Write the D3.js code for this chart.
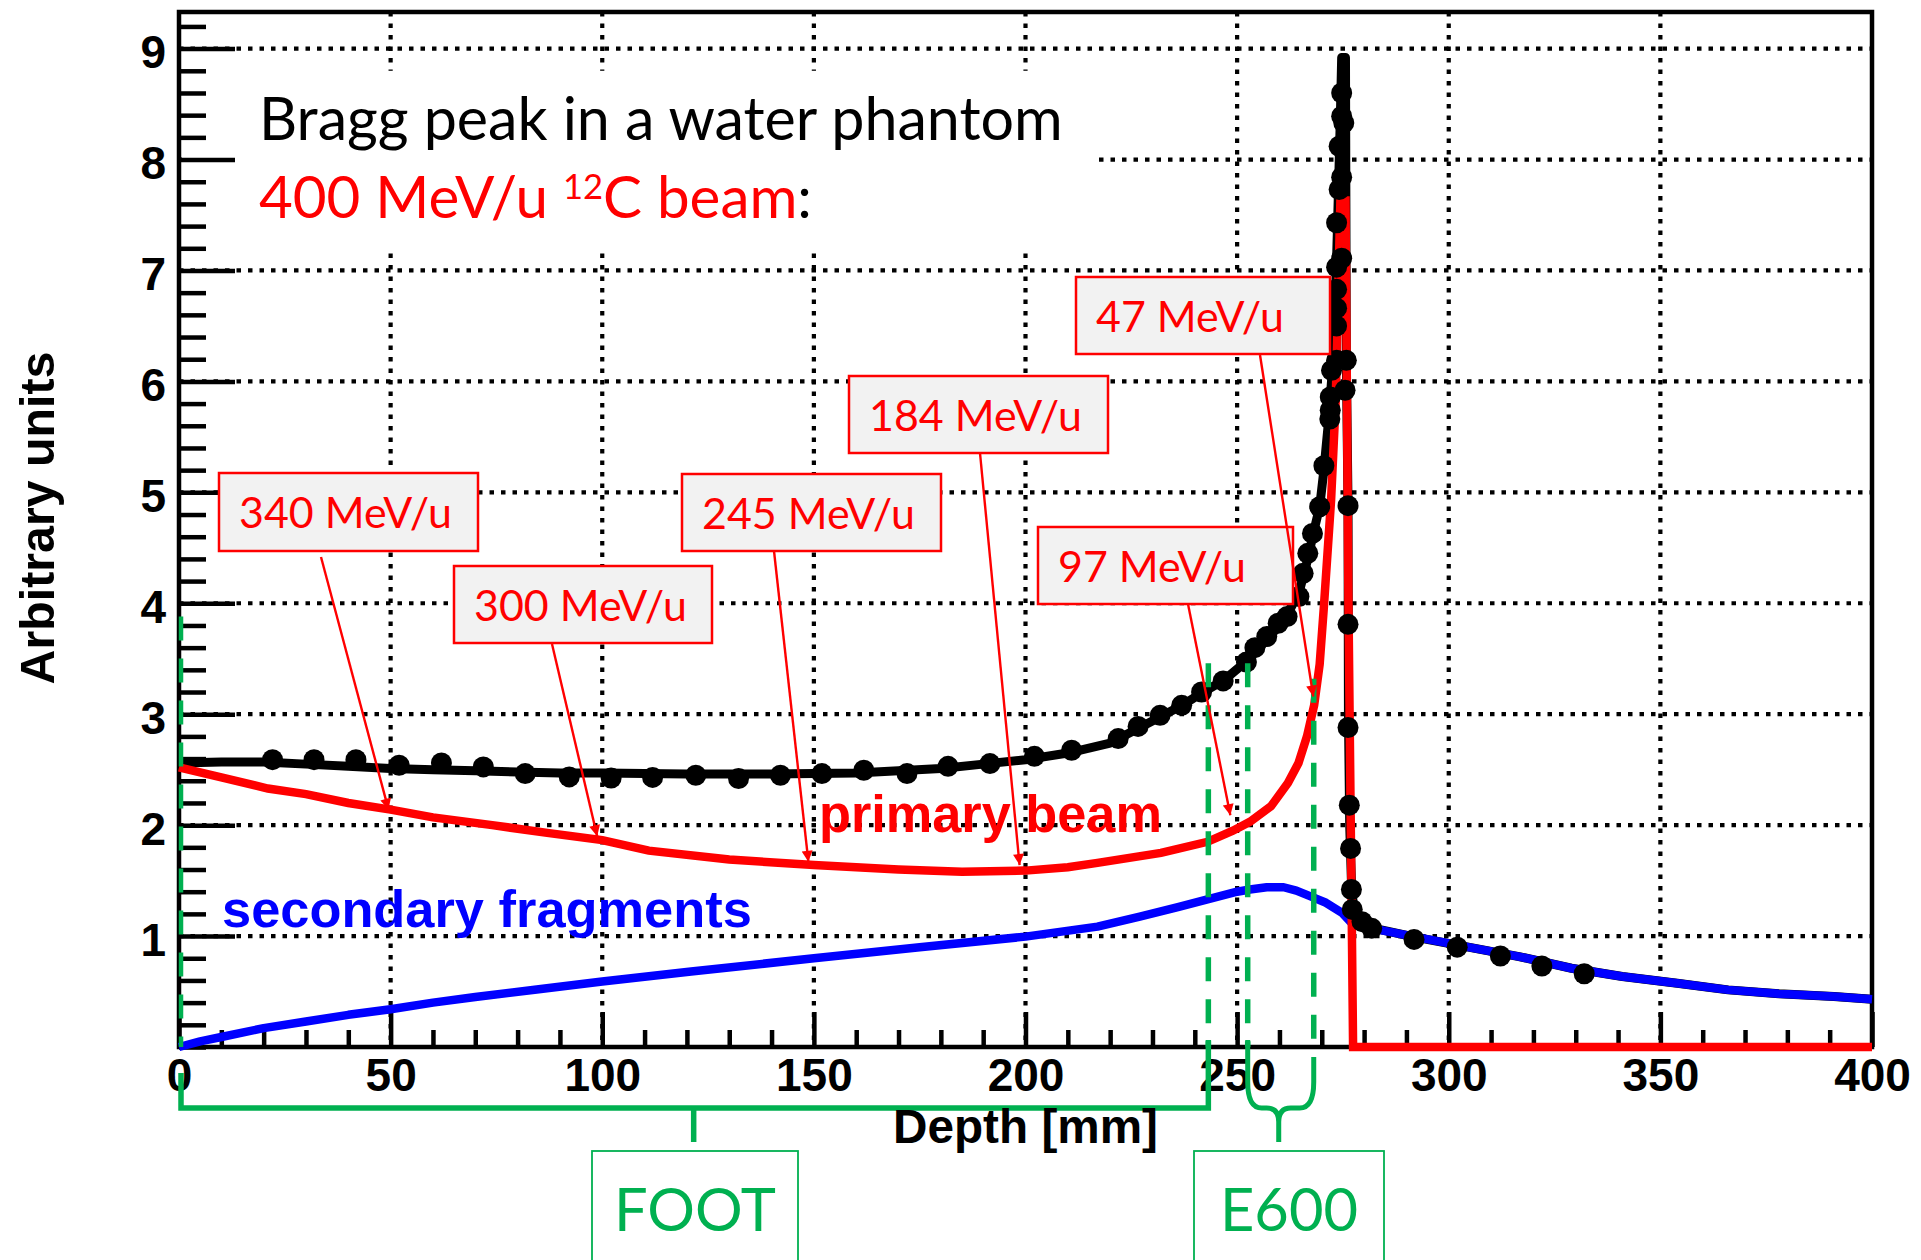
<!DOCTYPE html>
<html><head><meta charset="utf-8">
<script src="https://cdn.jsdelivr.net/npm/d3@7"></script>
<style>body{margin:0;background:#fff} svg{display:block}</style>
</head><body>
<svg id="chart" width="1921" height="1260"></svg>
<script>
// ---------------- DATA ----------------
const depthTicks = [0, 50, 100, 150, 200, 250, 300, 350, 400];
const depthMinorTicks = d3.range(0, 401, 10);
const valueTicks = [1, 2, 3, 4, 5, 6, 7, 8, 9];
const valueMinorTicks = d3.range(0, 47).map(i => +(i * 0.2).toFixed(1));

// total dose (black line), [depth mm, value]
const totalDose = [[0,2.56],[10,2.57],[20,2.57],[30,2.55],[40,2.53],[50,2.51],[60,2.5],[70,2.49],[80,2.48],[90,2.47],[100,2.47],[120,2.46],[140,2.46],[160,2.47],[170,2.49],[180,2.51],[190,2.55],[200,2.59],[210,2.65],[220,2.74],[226,2.86],[232,2.98],[237,3.08],[242,3.2],[247,3.31],[252,3.47],[256,3.63],[260,3.8],[263,3.98],[265,4.15],[266.7,4.4],[268,4.63],[269.5,4.87],[270.5,5.2],[271.5,5.6],[272.3,6.0],[273,6.5],[273.5,7.1],[274,7.8],[274.4,8.4],[274.7,8.92],[275.6,8.92],[275.8,6.2],[276.2,4.9],[276.3,3.0],[276.6,2.0],[277,1.5],[277.5,1.25],[278.5,1.15],[281,1.08],[286,1.04],[292,0.99],[304,0.905],[316.6,0.815],[329,0.71],[341,0.635],[354,0.575],[366,0.515],[378,0.48],[391,0.455],[400,0.43]];

// primary beam (red line)
const primaryBeam = [[0,2.52],[10,2.43],[21,2.33],[30,2.28],[40,2.2],[50,2.14],[60,2.07],[74,2.0],[87,1.93],[100,1.865],[111,1.77],[130,1.69],[150,1.64],[170,1.6],[185,1.58],[200,1.59],[210,1.62],[217,1.66],[232,1.75],[243,1.85],[249,1.95],[253,2.03],[258,2.17],[262,2.38],[264.5,2.56],[266.5,2.8],[268.2,3.08],[269.5,3.45],[270.5,3.97],[272.2,4.93],[273.3,5.83],[274,7.0],[274.4,7.63],[275.6,7.63],[276.3,4.0],[277.4,0],[400,0]];

// secondary fragments (blue line)
const fragments = [[0,0],[5,0.05],[10,0.09],[20,0.17],[30,0.23],[40,0.29],[50,0.34],[60,0.4],[70,0.45],[85,0.52],[100,0.59],[121,0.68],[150,0.8],[175,0.9],[200,0.995],[217,1.085],[227,1.175],[236,1.26],[243,1.33],[250,1.4],[253,1.42],[257,1.44],[261,1.44],[264,1.41],[267.5,1.355],[271,1.3],[274.8,1.21],[277,1.12],[281.8,1.07],[291.8,0.995],[304,0.905],[316.6,0.815],[329,0.71],[341,0.635],[354,0.575],[366,0.515],[378,0.48],[391,0.455],[400,0.43]];

// measured points (black dots)
const measured = [[22.1,2.59],[31.9,2.59],[41.8,2.59],[52,2.54],[62,2.56],[71.9,2.525],[81.8,2.465],[92.2,2.435],[102.1,2.425],[111.9,2.43],[122.1,2.45],[132.2,2.42],[142.1,2.45],[151.9,2.465],[161.8,2.495],[172,2.465],[181.7,2.53],[191.6,2.555],[202.1,2.62],[210.9,2.675],[221.9,2.78],[226.6,2.89],[231.8,2.99],[236.9,3.08],[241.6,3.2],[246.7,3.3],[252.2,3.47],[254.2,3.6],[257,3.7],[259.7,3.82],[261.8,3.88],[264.6,4.06],[265.6,4.27],[266.7,4.45],[267.8,4.63],[269.5,4.87],[270.5,5.24],[271.9,5.66],[272,5.74],[272,5.86],[272.3,6.1],[273.5,6.19],[273.5,6.5],[273.5,6.66],[273.5,6.83],[273.5,7.03],[274.7,7.11],[273.5,7.43],[274.1,7.73],[274.7,7.84],[274.1,8.12],[275.2,8.33],[274.7,8.39],[274.7,8.6],[275.8,6.19],[275.5,5.92],[276.2,4.88],[276.2,3.81],[276.2,2.88],[276.5,2.18],[276.8,1.79],[277,1.42],[277.2,1.24],[279.5,1.13],[281.8,1.07],[291.8,0.97],[302,0.9],[312.2,0.82],[322,0.73],[332,0.66]];

// energy annotations
const energyLabels = ["340 MeV/u", "300 MeV/u", "245 MeV/u", "184 MeV/u", "97 MeV/u", "47 MeV/u"];
const energyDepths = [49.5, 98.8, 148.7, 198.6, 248.4, 268.0];
const energyValues = [2.14, 1.90, 1.67, 1.64, 2.09, 3.16];

// detector ranges (mm)
const detectorNames = ["FOOT", "E600"];
const detectorRanges = [[0, 243.2], [252.5, 268.1]];
const markerDepths = [0, 243.2, 252.5, 268.1];
const markerTops = [3.88, 3.46, 3.46, 3.32];

// ---------------- LAYOUT ----------------
const plot = {left: 179, right: 1872, top: 12, bottom: 1047};
const energyBoxes = [[219,473,259,78],[454,566,258,77],[682,474,259,77],[849,376,259,77],[1038,527,255,77],[1076,277,254,77]];
const energyArrowStarts = [[321,557],[552,644],[774,551],[980,453],[1188,604],[1260,355]];
const detectorBoxes = [[592,1151,206,160],[1194,1151,190,160]];

const RED = "#ff0000", BLUE = "#0000ff", GREEN = "#00b050";
const svg = d3.select("#chart");
const x = d3.scaleLinear().domain([0, 400]).range([plot.left, plot.right]);
const y = d3.scaleLinear().domain([0, 9.33]).range([plot.bottom, plot.top]);

function fit(sel, target) {
  const w = sel.node().getComputedTextLength();
  const fs = parseFloat(sel.attr("font-size"));
  const nf = fs * target / w;
  sel.attr("font-size", nf);
  return nf;
}

svg.append("rect").attr("width", 1921).attr("height", 1260).attr("fill", "#fff");

// grid
const grid = svg.append("g").attr("stroke", "#000").attr("stroke-width", 4.2).attr("stroke-dasharray", "4.5 7");
grid.selectAll("line.v").data(depthTicks.filter(d => d > 0 && d < 400)).join("line")
  .attr("x1", d => x(d)).attr("x2", d => x(d)).attr("y1", plot.top).attr("y2", plot.bottom);
grid.selectAll("line.h").data(valueTicks).join("line")
  .attr("x1", plot.left).attr("x2", plot.right).attr("y1", d => y(d)).attr("y2", d => y(d));

// title background box
svg.append("rect").attr("x", plot.left + 3).attr("y", y(8.8)).attr("width", 1095 - plot.left - 3)
  .attr("height", y(7.2) - y(8.8)).attr("fill", "#fff");

// axes
const tickFont = "'Liberation Sans', Arial, sans-serif";
const yMajor = svg.append("g").attr("transform", `translate(${plot.left},0)`)
  .call(d3.axisLeft(y).tickValues(valueTicks).tickSize(-56).tickPadding(13).tickFormat(d3.format("d")));
const yMinor = svg.append("g").attr("transform", `translate(${plot.left},0)`)
  .call(d3.axisLeft(y).tickValues(valueMinorTicks.filter(v => !valueTicks.includes(v))).tickSize(-27).tickFormat(""));
const xMajor = svg.append("g").attr("transform", `translate(0,${plot.bottom})`)
  .call(d3.axisBottom(x).tickValues(depthTicks).tickSize(-35).tickPadding(11).tickFormat(d3.format("d")));
const xMinor = svg.append("g").attr("transform", `translate(0,${plot.bottom})`)
  .call(d3.axisBottom(x).tickValues(depthMinorTicks.filter(v => !depthTicks.includes(v))).tickSize(-17).tickFormat(""));
[yMajor, yMinor, xMajor, xMinor].forEach(g => {
  g.select(".domain").remove();
  g.selectAll(".tick line").attr("stroke", "#000").attr("stroke-width", 4.5);
  g.selectAll(".tick text").attr("fill", "#000").attr("font-family", tickFont)
    .attr("font-weight", "bold").attr("font-size", 46);
});
yMajor.selectAll(".tick text").attr("dy", "0.42em");
xMajor.selectAll(".tick text").attr("dy", "0.71em");

// frame
svg.append("rect").attr("x", plot.left).attr("y", plot.top).attr("width", plot.right - plot.left)
  .attr("height", plot.bottom - plot.top).attr("fill", "none").attr("stroke", "#000").attr("stroke-width", 4.5);

// curves
const line = d3.line().x(d => x(d[0])).y(d => y(d[1]));
svg.append("path").datum(totalDose).attr("d", line).attr("fill", "none").attr("stroke", "#000")
  .attr("stroke-width", 9).attr("stroke-linejoin", "round");
svg.append("path").datum(fragments).attr("d", line).attr("fill", "none").attr("stroke", BLUE)
  .attr("stroke-width", 8.5).attr("stroke-linejoin", "round");
svg.append("path").datum(primaryBeam).attr("d", line).attr("fill", "none").attr("stroke", RED)
  .attr("stroke-width", 8.5).attr("stroke-linejoin", "miter");

// dots
svg.append("g").selectAll("circle").data(measured).join("circle")
  .attr("cx", d => x(d[0])).attr("cy", d => y(d[1])).attr("r", 10.5).attr("fill", "#000");

// green dashed markers
svg.append("g").selectAll("line").data(markerDepths).join("line")
  .attr("x1", (d, i) => x(d) + (i === 0 ? 2 : 0)).attr("x2", (d, i) => x(d) + (i === 0 ? 2 : 0))
  .attr("y1", (d, i) => y(markerTops[i])).attr("y2", plot.bottom)
  .attr("stroke", GREEN).attr("stroke-width", (d, i) => i === 0 ? 4.5 : 5.5).attr("stroke-dasharray", "24 18");

// FOOT bracket
const f0 = x(detectorRanges[0][0]) + 2, f1 = x(detectorRanges[0][1]), fc = x((detectorRanges[0][0] + detectorRanges[0][1]) / 2);
svg.append("path").attr("d", `M${f0},1073V1108H${f1}V1040M${fc},1108V1142`)
  .attr("fill", "none").attr("stroke", GREEN).attr("stroke-width", 5.5);
// E600 brace
const e0 = x(detectorRanges[1][0]), e1 = x(detectorRanges[1][1]), ec = x((detectorRanges[1][0] + detectorRanges[1][1]) / 2) - 2;
svg.append("path").attr("d",
  `M${e0},1040V1082Q${e0},1108 ${e0+14},1108H${ec-12}Q${ec},1108 ${ec},1122V1142` +
  `M${ec},1122Q${ec},1108 ${ec+12},1108H${e1-14}Q${e1},1108 ${e1},1082V1057`)
  .attr("fill", "none").attr("stroke", GREEN).attr("stroke-width", 5);

// detector boxes
let detFont = null;
detectorNames.forEach((name, i) => {
  const b = detectorBoxes[i];
  svg.append("rect").attr("x", b[0]).attr("y", b[1]).attr("width", b[2]).attr("height", b[3])
    .attr("fill", "#fff").attr("stroke", GREEN).attr("stroke-width", 1.8);
  const t = svg.append("text").attr("x", b[0] + b[2] / 2).attr("y", 1231).attr("text-anchor", "middle")
    .attr("font-family", "Lato, 'Open Sans', sans-serif").attr("font-size", 66).attr("fill", GREEN).text(name);
  if (i === 0) detFont = fit(t, 162); else t.attr("font-size", detFont);
});

// energy label boxes
const defs = svg.append("defs");
defs.append("marker").attr("id", "arr").attr("viewBox", "0 0 10 10").attr("refX", 10).attr("refY", 5)
  .attr("markerWidth", 15).attr("markerHeight", 11).attr("markerUnits", "userSpaceOnUse").attr("orient", "auto")
  .append("path").attr("d", "M0,0L10,5L0,10z").attr("fill", RED);

let boxFont = null;
energyLabels.forEach((lab, i) => {
  const b = energyBoxes[i];
  svg.append("rect").attr("x", b[0]).attr("y", b[1]).attr("width", b[2]).attr("height", b[3])
    .attr("fill", "#f2f2f2").attr("stroke", RED).attr("stroke-width", 2.5);
  const t = svg.append("text").attr("x", b[0] + 20).attr("y", b[1] + 55)
    .attr("font-family", "Lato, 'Open Sans', sans-serif").attr("font-size", 42).attr("fill", RED).text(lab);
  if (i === 0) boxFont = fit(t, 213); else t.attr("font-size", boxFont);
});
energyLabels.forEach((lab, i) => {
  const s = energyArrowStarts[i];
  svg.append("line").attr("x1", s[0]).attr("y1", s[1])
    .attr("x2", x(energyDepths[i])).attr("y2", y(energyValues[i]))
    .attr("stroke", RED).attr("stroke-width", 2.4).attr("marker-end", "url(#arr)");
});

// title
const t1 = svg.append("text").attr("x", 259).attr("y", 140).attr("font-family", "Lato, 'Open Sans', sans-serif")
  .attr("font-size", 54).attr("fill", "#000").text("Bragg peak in a water phantom");
fit(t1, 804);
const t2 = svg.append("text").attr("x", 259).attr("y", 218).attr("font-family", "Lato, 'Open Sans', sans-serif")
  .attr("font-size", 54);
t2.append("tspan").attr("fill", RED).text("400 MeV/u ");
t2.append("tspan").attr("fill", RED).attr("class", "sup").attr("font-size", 32).attr("dy", -19).text("12");
t2.append("tspan").attr("fill", RED).attr("dy", 19).text("C beam");
t2.append("tspan").attr("fill", "#000").text(":");
{
  const w = t2.node().getComputedTextLength();
  const k = 553 / w;
  t2.attr("font-size", 54 * k);
  t2.select(".sup").attr("font-size", 32 * k);
}

// series labels
const pb = svg.append("text").attr("x", 819).attr("y", 832).attr("font-family", tickFont).attr("font-weight", "bold")
  .attr("font-size", 52).attr("fill", RED).text("primary beam");
fit(pb, 343);
const sf = svg.append("text").attr("x", 222).attr("y", 927).attr("font-family", tickFont).attr("font-weight", "bold")
  .attr("font-size", 52).attr("fill", BLUE).text("secondary fragments");
fit(sf, 530);

// axis titles
const yt = svg.append("text").attr("transform", "translate(54,518) rotate(-90)").attr("text-anchor", "middle")
  .attr("font-family", tickFont).attr("font-weight", "bold").attr("font-size", 48).attr("fill", "#000").text("Arbitrary units");
fit(yt, 333);
const xt = svg.append("text").attr("x", x(200)).attr("y", 1143).attr("text-anchor", "middle")
  .attr("font-family", tickFont).attr("font-weight", "bold").attr("font-size", 47).attr("fill", "#000").text("Depth [mm]");
fit(xt, 265);
</script>
</body></html>
